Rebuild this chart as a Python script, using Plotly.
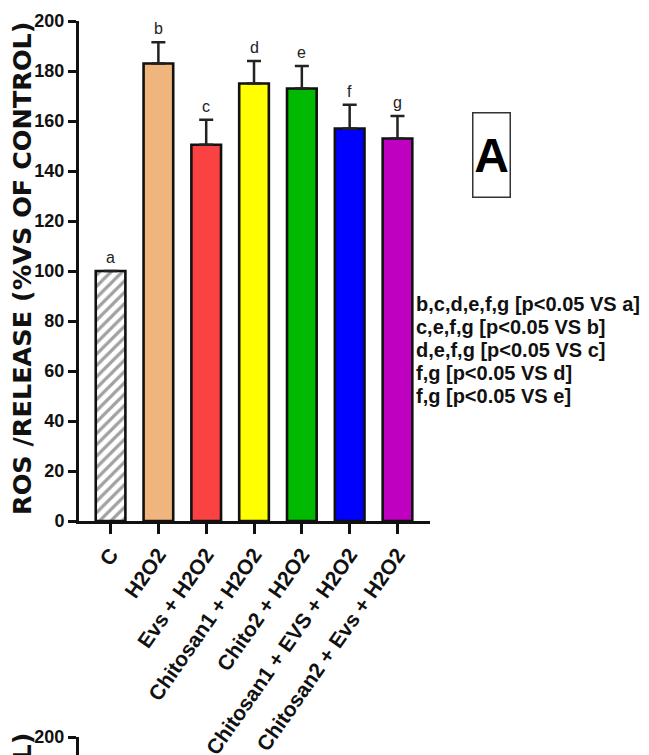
import plotly.graph_objects as go

categories = ["C", "H2O2", "Evs + H2O2", "Chitosan1 + H2O2", "Chito2 + H2O2",
              "Chitosan1 + EVS + H2O2", "Chitosan2 + Evs + H2O2"]
values = [100, 183, 150.5, 175, 173, 157, 153]
errors = [0, 8.5, 10, 9, 9, 9.5, 9]
letters = ["a", "b", "c", "d", "e", "f", "g"]
colors = ["white", "#F0B57D", "#FA4242", "#FFFF00", "#00B900", "#0000FF", "#C000C0"]
patterns = ["/", "", "", "", "", "", ""]

sig_lines = ["b,c,d,e,f,g [p<0.05 VS a]",
             "c,e,f,g [p<0.05 VS b]",
             "d,e,f,g [p<0.05 VS c]",
             "f,g [p<0.05 VS d]",
             "f,g [p<0.05 VS e]"]

y_title = "ROS /RELEASE (%VS OF CONTROL)"
panel_label = "A"

# panel B (only its top edge is visible)
panelB_categories = ["H2O2"]
panelB_values = [185.5]
panelB_errors = [8]
panelB_letters = ["b"]

# page has an 8px body margin, so the figure is drawn from (8, 8)
OFF = 8
W, H = 649 - OFF, 755 - OFF
ARIAL = "Liberation Sans, Arial"

def px_x(p):
    return (p - OFF) / W

def px_y(p):
    return (H - (p - OFF)) / H

fig = go.Figure()
fig.add_trace(go.Bar(
    x=categories, y=values, width=0.62,
    marker=dict(color=colors, line=dict(color="#111", width=2.6),
                pattern=dict(shape=patterns, fgcolor="#8c8c8c", bgcolor="white",
                             size=8, solidity=0.4)),
    error_y=dict(type="data", symmetric=False, array=errors,
                 arrayminus=[0] * len(errors), color="#222", thickness=2.5, width=7),
    xaxis="x", yaxis="y", showlegend=False))

fig.add_trace(go.Bar(
    x=panelB_categories, y=panelB_values, width=0.62,
    marker=dict(color="#F0B57D", line=dict(color="#111", width=2.6)),
    error_y=dict(type="data", symmetric=False, array=panelB_errors,
                 arrayminus=[0], color="#222", thickness=2.5, width=7),
    xaxis="x2", yaxis="y2", showlegend=False))

ann = []
for c, v, e, l in zip(categories, values, errors, letters):
    ann.append(dict(x=c, y=v + e, xref="x", yref="y", text=l, showarrow=False,
                    yanchor="bottom", yshift=3, font=dict(family=ARIAL, size=16, color="#222")))
for c, v, e, l in zip(panelB_categories, panelB_values, panelB_errors, panelB_letters):
    ann.append(dict(x=c, y=v + e, xref="x2", yref="y2", text=l, showarrow=False,
                    yanchor="bottom", yshift=3, font=dict(family=ARIAL, size=16, color="#222")))

ann.append(dict(x=px_x(22), y=px_y(268), xref="paper", yref="paper", text=y_title,
                textangle=-90, showarrow=False, xanchor="center", yanchor="middle",
                font=dict(family="DejaVu Sans", size=25.5, color="#111", weight="bold")))
ann.append(dict(x=px_x(22), y=px_y(730), xref="paper", yref="paper", text=y_title,
                textangle=-90, showarrow=False, xanchor="center", yanchor="top",
                font=dict(family="DejaVu Sans", size=25.5, color="#111", weight="bold")))

ann.append(dict(x=px_x(491), y=px_y(154.5), xref="paper", yref="paper", text=panel_label,
                showarrow=False, xanchor="center", yanchor="middle", width=34, height=81,
                borderpad=1, borderwidth=1.5, bordercolor="#333",
                font=dict(family=ARIAL, size=48, color="#000", weight="bold")))

sig_y = [304, 327, 350, 373, 396]
for t, yy in zip(sig_lines, sig_y):
    ann.append(dict(x=px_x(414), y=px_y(yy), xref="paper", yref="paper", text=t,
                    showarrow=False, xanchor="left", yanchor="middle",
                    font=dict(family=ARIAL, size=20, color="#111", weight="bold")))

xdom = [px_x(79), px_x(430)]
fig.update_layout(
    width=W, height=H, margin=dict(l=0, r=0, t=0, b=0, autoexpand=False),
    paper_bgcolor="white", plot_bgcolor="white", bargap=0.3,
    annotations=ann,
    xaxis=dict(domain=xdom, range=[-0.66, 6.68], showline=True, linecolor="#111",
               linewidth=3, ticks="outside", ticklen=10, tickwidth=3, tickcolor="#111",
               tickangle=-55, showgrid=False, zeroline=False, anchor="y", automargin=False,
               tickfont=dict(family=ARIAL, size=21, color="#111", weight="bold")),
    yaxis=dict(domain=[px_y(521), px_y(21)], range=[0, 200], dtick=20, showline=True,
               linecolor="#111", linewidth=3, ticks="outside", ticklen=8, tickwidth=3,
               tickcolor="#111", showgrid=False, zeroline=False, anchor="x", automargin=False,
               tickfont=dict(family=ARIAL, size=18, color="#111", weight="bold")),
    xaxis2=dict(domain=xdom, range=[-0.66, 6.68], visible=False, anchor="y2",
                automargin=False, categoryorder="array", categoryarray=categories),
    yaxis2=dict(domain=[0, px_y(737)], range=[200 - 10 / 2.5, 200], tick0=0, dtick=20,
                showline=True, linecolor="#111", linewidth=3, ticks="outside", ticklen=8,
                tickwidth=3, tickcolor="#111", showgrid=False, zeroline=False, anchor="x2",
                automargin=False,
                tickfont=dict(family=ARIAL, size=18, color="#111", weight="bold")),
)

fig.write_html("out.html")
